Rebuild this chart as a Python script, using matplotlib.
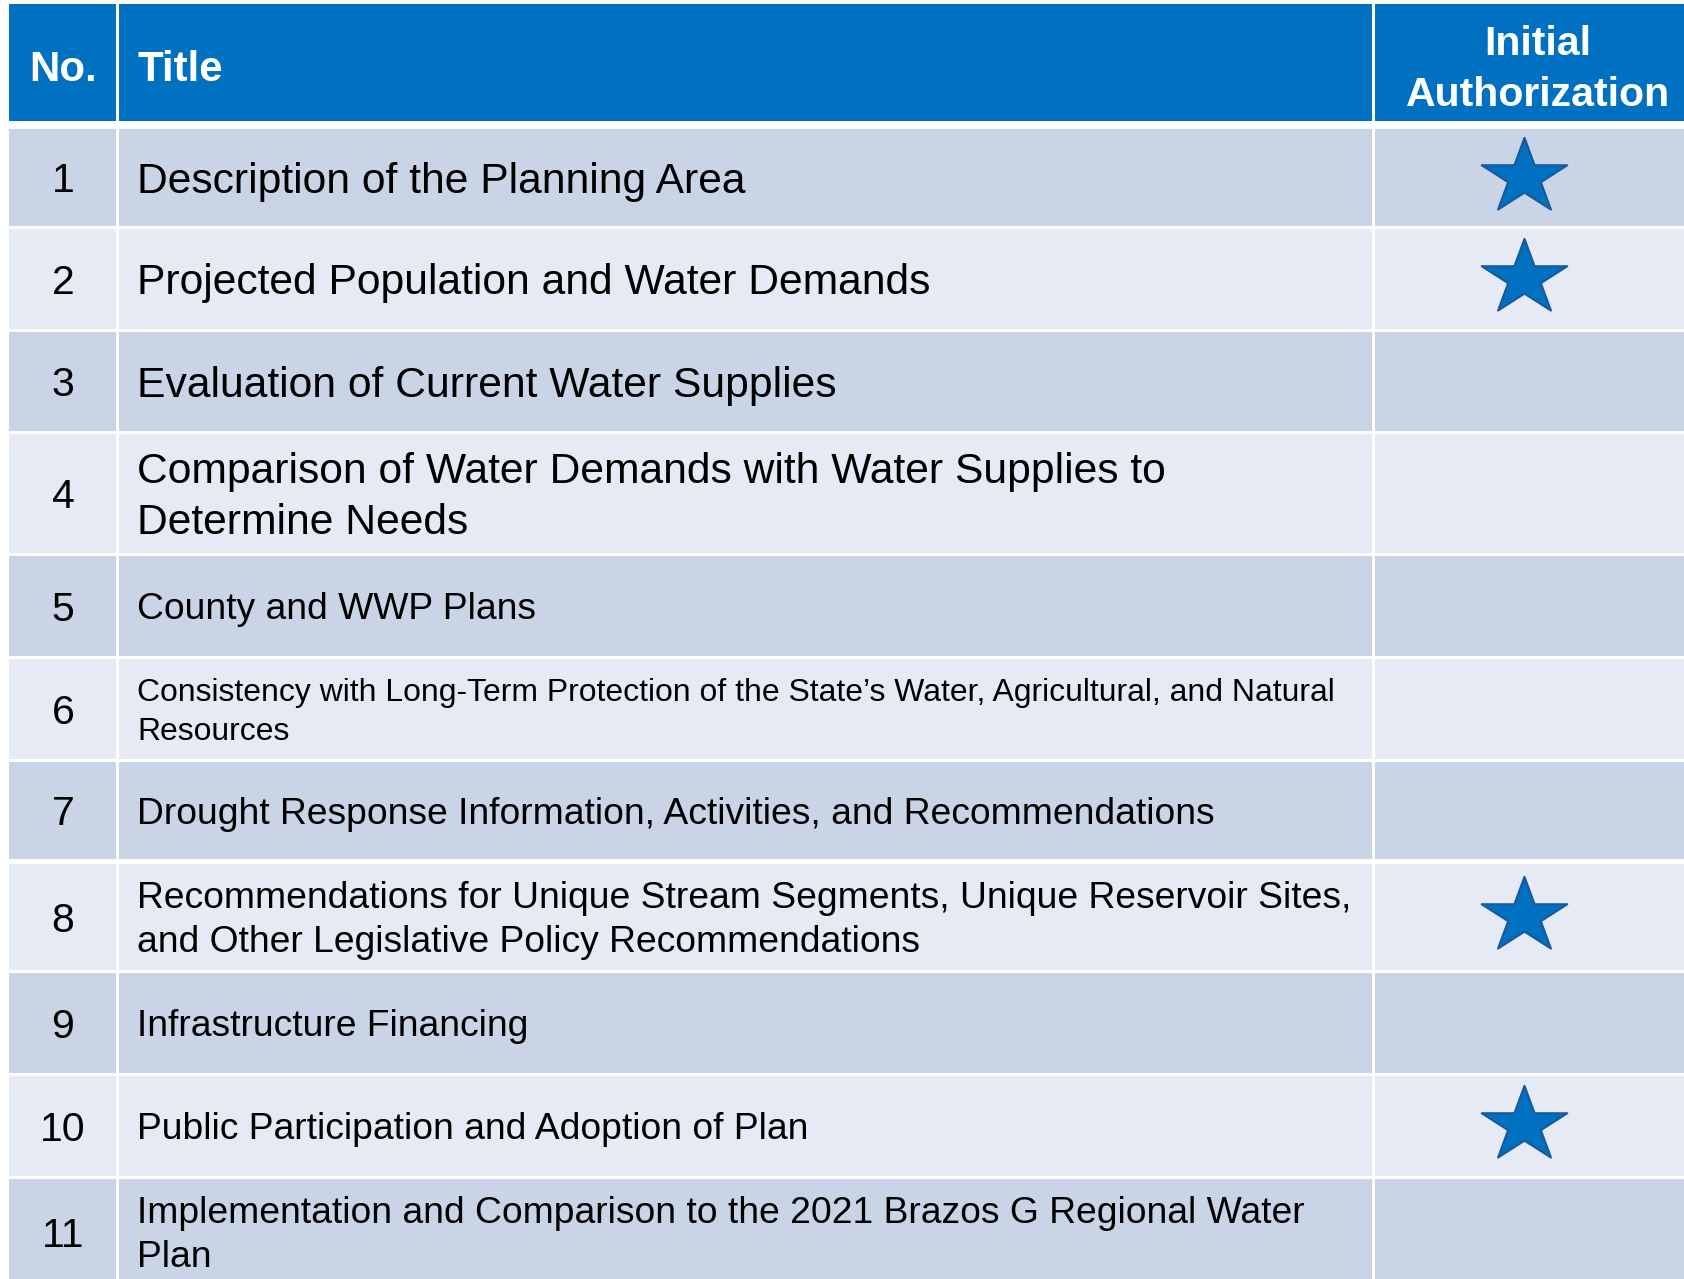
import numpy as np
import matplotlib.pyplot as plt
from matplotlib.patches import Rectangle
from matplotlib.path import Path

# table content
numbers = ["1", "2", "3", "4", "5", "6", "7", "8", "9", "10", "11"]
titles = [
    "Description of the Planning Area",
    "Projected Population and Water Demands",
    "Evaluation of Current Water Supplies",
    "Comparison of Water Demands with Water Supplies to\nDetermine Needs",
    "County and WWP Plans",
    "Consistency with Long-Term Protection of the State\u2019s Water, Agricultural, and Natural\nResources",
    "Drought Response Information, Activities, and Recommendations",
    "Recommendations for Unique Stream Segments, Unique Reservoir Sites,\nand Other Legislative Policy Recommendations",
    "Infrastructure Financing",
    "Public Participation and Adoption of Plan",
    "Implementation and Comparison to the 2021 Brazos G Regional Water\nPlan",
]
initial_auth = [True, True, False, False, False, False, False, True, False, True, False]
header = ["No.", "Title", "Initial\nAuthorization"]

# layout (pixels, figure is drawn 1:1 in pixel units)
W, H = 1684, 1279
cols = [(9, 116), (119, 1372), (1375, 1700)]
head_y = (4, 121)
row_tops = [129, 229, 332, 434, 556, 659, 762, 864, 973, 1076, 1179]
row_bottoms = [226, 329, 431, 553, 656, 759, 859, 970, 1073, 1176, 1285]
title_px = [42.6, 42.6, 42.6, 42.6, 37.2, 31.9, 37.2, 37.2, 37.2, 37.2, 37.2]
line_gap = [0, 0, 0, 51, 0, 39.5, 0, 44, 0, 0, 44]
num_px = 41

head_blue = "#0070C0"
band_dark = "#C9D4E7"
band_light = "#E6EAF4"

plt.rcParams["font.family"] = ["Liberation Sans", "DejaVu Sans"]


def pt(px):
    return px * 72 / 100


def put_lines(ax, x, yc, text, px, gap, **kw):
    lines = text.split("\n")
    n = len(lines)
    for k, line in enumerate(lines):
        base = yc + (k - (n - 1) / 2) * gap + 0.358 * px
        ax.text(x, base, line, fontsize=pt(px), va="baseline", **kw)


fig = plt.figure(figsize=(W / 100, H / 100), dpi=100)
ax = fig.add_axes([0, 0, 1, 1])
ax.set_xlim(0, W)
ax.set_ylim(H, 0)
ax.axis("off")

# header
for x0, x1 in cols:
    ax.add_patch(Rectangle((x0, head_y[0]), x1 - x0, head_y[1] - head_y[0],
                           facecolor=head_blue, edgecolor="none"))
hc = (head_y[0] + head_y[1]) / 2 + 3
put_lines(ax, 63, hc, header[0], 42, 0, ha="center", color="white", fontweight="bold")
put_lines(ax, 137, hc, header[1], 42, 0, ha="left", color="white", fontweight="bold")
put_lines(ax, 1538, 66, header[2], 41, 51, ha="center", color="white", fontweight="bold")

# body rows
star_x = []
star_y = []
for i in range(len(numbers)):
    top, bot = row_tops[i], row_bottoms[i]
    face = band_dark if i % 2 == 0 else band_light
    for x0, x1 in cols:
        ax.add_patch(Rectangle((x0, top), x1 - x0, bot - top,
                               facecolor=face, edgecolor="none"))
    yc = (top + bot) / 2
    put_lines(ax, 63, yc, numbers[i], num_px, 0, ha="center", color="black")
    put_lines(ax, 137, yc, titles[i], title_px[i], line_gap[i], ha="left", color="black")
    if initial_auth[i]:
        star_x.append(1524)
        star_y.append(yc - 1)

# slightly wide five-point star marker
ang = np.deg2rad(90 + 36 * np.arange(10))
rad = np.where(np.arange(10) % 2 == 0, 1.0, 0.381966)
verts = np.column_stack([1.135 * rad * np.cos(ang), rad * np.sin(ang)])
verts = np.vstack([verts, verts[:1]])
codes = [Path.MOVETO] + [Path.LINETO] * 9 + [Path.CLOSEPOLY]
star = Path(verts, codes)

ax.plot(star_x, star_y, linestyle="none", marker=star, markersize=pt(85.6),
        markerfacecolor=head_blue, markeredgecolor="#17599C", markeredgewidth=1.5)

fig.savefig("out.png", dpi=100)
